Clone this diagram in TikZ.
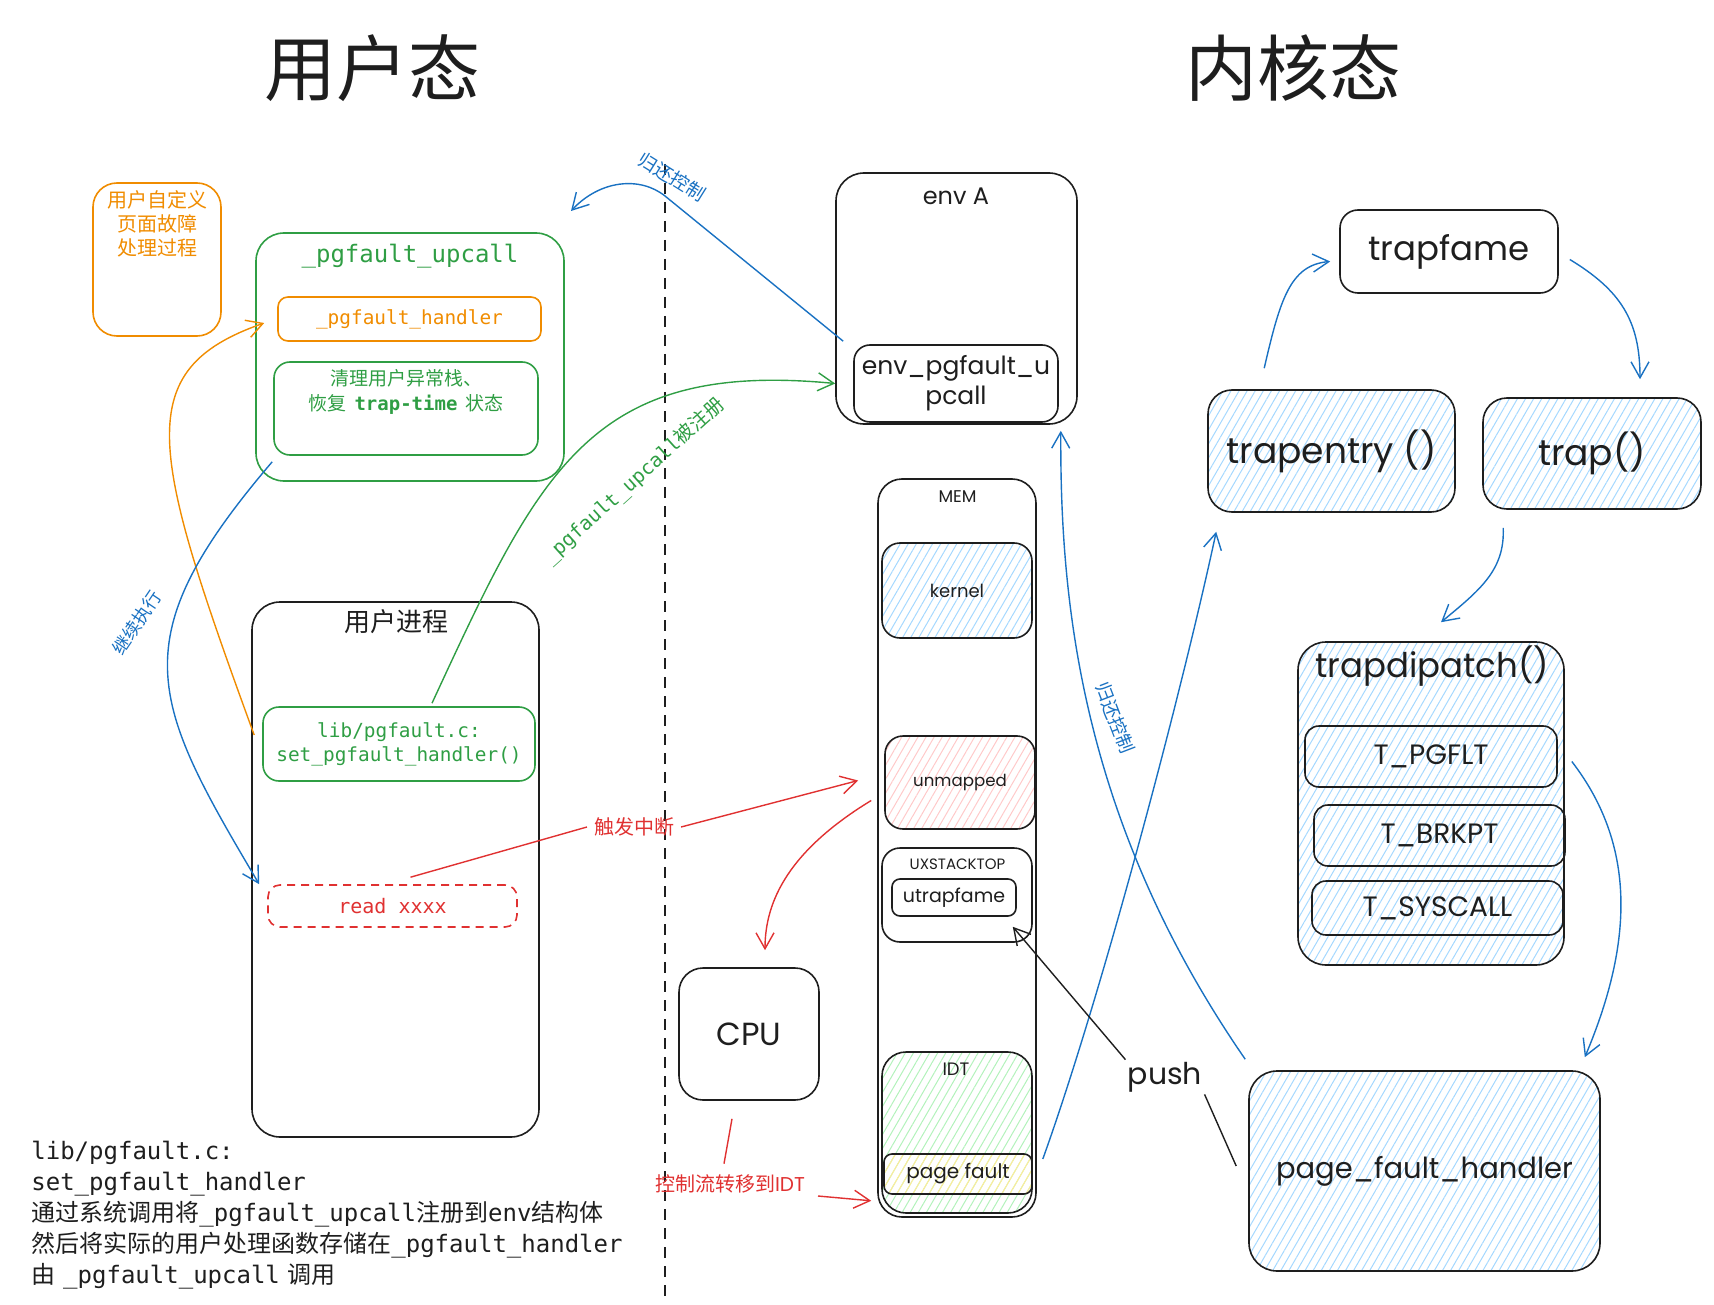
\documentclass[tikz,border=0pt]{standalone}
\usepackage{fontspec}
\newfontfamily\cjk{Noto Sans CJK SC}
\newfontfamily\hand{Poppins}
\newfontfamily\code{DejaVu Sans Mono}
\newcommand\setfs[2]{\fontsize{#1}{#2}\selectfont}
\usepackage{tikz}
\usetikzlibrary{
  arrows.meta,
  calc,
  patterns.meta
}
\definecolor{ink}{HTML}{1E1E1E}
\definecolor{exblue}{HTML}{1971C2}
\definecolor{exgreen}{HTML}{2F9E44}
\definecolor{exorange}{HTML}{F08C00}
\definecolor{exred}{HTML}{E03131}
\definecolor{hatchblue}{HTML}{A5D8FF}
\definecolor{hatchred}{HTML}{FFC9C9}
\definecolor{hatchgreen}{HTML}{B2F2BB}
\definecolor{hatchyellow}{HTML}{FFEC99}

\begin{document}
\begin{tikzpicture}[
    x=0.5pt, y=-0.5pt,
    >={Straight Barb[length=8pt,width=9pt]},
    box/.style={draw=ink, line width=0.8pt, rounded corners=12pt,
                inner sep=2pt, text=ink},
    hatch/.style={pattern={Lines[angle=60,distance=3.5pt,line width=0.5pt]},
                  pattern color=#1},
    flow/.style={line width=0.7pt},
    divider/.style={draw=ink, line width=1pt, dash pattern=on 5.5pt off 4pt}
  ]
  \useasboundingbox (0,0) rectangle (1714,1305);

  %% Titles
  \node[font=\cjk\setfs{36}{40}, text=ink] (usertitle) at (372,68) {用户态};
  \node[font=\cjk\setfs{36}{40}, text=ink] (kerneltitle) at (1293,68) {内核态};

  %% Divider
  \coordinate (divtop) at (665,164);
  \coordinate (divbot) at (665,1300);
  \draw[divider] (divtop) -- (divbot);

  %% User side
  \node[box, draw=exorange, minimum width=64pt, minimum height=76.5pt]
    (udef) at (157,259.5) {};
  \node[font=\cjk\setfs{10}{12}, text=exorange, align=center]
    (udeftxt) at (157,224) {用户自定义\\页面故障\\处理过程};

  \node[box, draw=exgreen, rounded corners=14pt, minimum width=154pt,
        minimum height=124pt] (upcall) at (410,357) {};
  \node[font=\code\setfs{12}{14}, text=exgreen]
    (upcalltxt) at (410,256) {\_pgfault\_upcall};
  \node[box, draw=exorange, rounded corners=5pt, minimum width=131.5pt,
        minimum height=22pt, font=\code\setfs{9.7}{12}, text=exorange]
    (handler) at (409.5,319) {\_pgfault\_handler};
  \node[box, draw=exgreen, rounded corners=8pt, minimum width=132pt,
        minimum height=46.5pt] (restore) at (406,408.5) {};
  \node[font=\cjk\setfs{9.5}{12.5}, text=exgreen, align=center]
    (restoretxt) at (406,392) {清理用户异常栈、\\恢复\ \ {\code\bfseries trap-time}\ \ 状态};

  \node[box, rounded corners=14pt, minimum width=143.5pt,
        minimum height=267.5pt] (proc) at (395.5,869.5) {};
  \node[font=\cjk\setfs{13}{15}, text=ink] (proctxt) at (396,622) {用户进程};
  \node[box, draw=exgreen, rounded corners=8pt, minimum width=136pt,
        minimum height=37pt, font=\code\setfs{9.7}{12}, text=exgreen, align=center]
    (setph) at (399,744) {lib/pgfault.c:\\set\_pgfault\_handler()};
  \node[box, draw=exred, dash pattern=on 4pt off 3pt, rounded corners=6pt,
        minimum width=124.5pt, minimum height=21pt,
        font=\code\setfs{10}{12}, text=exred] (readx) at (392.5,906) {read xxxx};

  \node[anchor=north west, inner sep=0pt, font=\setfs{12}{15.5}, text=ink,
        align=left] (note) at (31,1141)
    {{\code lib/pgfault.c:}\\
     {\code set\_pgfault\_handler}\\
     {\cjk 通过系统调用将}{\code\_pgfault\_upcall}{\cjk 注册到}{\code env}{\cjk 结构体}\\
     {\cjk 然后将实际的用户处理函数存储在}{\code\_pgfault\_handler}\\
     {\cjk 由} {\code\_pgfault\_upcall} {\cjk 调用}};

  %% Kernel side: env and memory
  \node[box, rounded corners=14pt, minimum width=120.5pt,
        minimum height=125.5pt] (envA) at (956.5,298.5) {};
  \node[font=\hand\setfs{12}{14}, text=ink] (envAtxt) at (956,196) {env A};
  \node[box, rounded corners=8pt, minimum width=102pt, minimum height=38.5pt,
        font=\hand\setfs{12.5}{15}, align=center]
    (envup) at (956,383.5) {env\_pgfault\_u\\pcall};

  \node[box, minimum width=79pt, minimum height=369pt] (mem) at (957,848) {};
  \node[font=\hand\setfs{8.5}{10}, text=ink] (memtxt) at (957.5,497) {MEM};
  \node[box, rounded corners=9pt, hatch=hatchblue, minimum width=75pt,
        minimum height=47.5pt, font=\hand\setfs{9}{11}] (kern) at (957,590.5) {kernel};
  \node[box, rounded corners=9pt, hatch=hatchred, minimum width=75pt,
        minimum height=46.5pt, font=\hand\setfs{8.3}{10}] (unmap) at (960,782.5) {unmapped};
  \node[box, rounded corners=9pt, minimum width=75pt, minimum height=47pt]
    (uxs) at (957,895) {};
  \node[font=\hand\setfs{7.5}{9}, text=ink] (uxstxt) at (957.5,864) {UXSTACKTOP};
  \node[box, rounded corners=4pt, minimum width=62pt, minimum height=18.5pt,
        font=\hand\setfs{9.5}{11}] (utf) at (954,897.5) {utrapfame};
  \node[box, hatch=hatchgreen, minimum width=75pt, minimum height=80.5pt]
    (idt) at (957,1132.5) {};
  \node[font=\hand\setfs{9}{11}, text=ink] (idttxt) at (956,1069) {IDT};
  \node[box, rounded corners=4pt, hatch=hatchyellow, minimum width=74pt,
        minimum height=20pt, font=\hand\setfs{10}{12}] (pf) at (958,1174) {page fault};

  \node[box, minimum width=70pt, minimum height=66pt,
        font=\hand\setfs{16}{18}] (cpu) at (749,1034) {CPU};

  %% Kernel side: trap path
  \node[box, rounded corners=9pt, minimum width=109pt, minimum height=41.5pt,
        font=\hand\setfs{17}{19}] (trapf) at (1449,251.5) {trapfame};
  \node[box, hatch=hatchblue, minimum width=123.5pt, minimum height=61pt,
        font=\hand\setfs{18}{20}] (tentry) at (1331.5,451) {trapentry ()};
  \node[box, hatch=hatchblue, minimum width=109pt, minimum height=55.5pt,
        font=\hand\setfs{18}{20}] (trap) at (1592,453.5) {trap()};
  \node[box, rounded corners=14pt, hatch=hatchblue, minimum width=133pt,
        minimum height=161.5pt] (tdisp) at (1431,803.5) {};
  \node[font=\hand\setfs{17}{19}, text=ink] (tdisptxt) at (1432,666) {trapdipatch()};
  \node[box, rounded corners=7pt, minimum width=126pt, minimum height=30.5pt,
        font=\hand\setfs{14}{16}] (tpg) at (1431,756.5) {T\_PGFLT};
  \node[box, rounded corners=7pt, minimum width=125.5pt, minimum height=30.5pt,
        font=\hand\setfs{14}{16}] (tbrk) at (1439.5,835.5) {T\_BRKPT};
  \node[box, rounded corners=7pt, minimum width=125.5pt, minimum height=27pt,
        font=\hand\setfs{14}{16}] (tsys) at (1437.5,908) {T\_SYSCALL};
  \node[box, rounded corners=14pt, hatch=hatchblue, minimum width=175.5pt,
        minimum height=100pt, font=\hand\setfs{14.5}{17}] (pfh) at (1424.5,1171)
    {page\_fault\_handler};

  \node[font=\hand\setfs{15}{17}, text=ink, inner sep=1pt] (push) at (1165,1077) {push};

  %% Arrow labels
  \node[font=\cjk\setfs{9.3}{11}, text=exblue, rotate=-32] (retlbl1) at (672,177) {归还控制};
  \node[font=\cjk\setfs{9.3}{11}, text=exblue, rotate=-69] (retlbl2) at (1115,718) {归还控制};
  \node[font=\cjk\setfs{9}{11}, text=exblue, rotate=56] (contlbl) at (137,623) {继续执行};
  \node[font=\setfs{9.8}{12}, text=exgreen, rotate=42] (reglbl) at (634,481)
    {{\code\_pgfault\_upcall}{\cjk 被注册}};
  \node[font=\cjk\setfs{10}{12}, text=exred] (trig) at (634,827) {触发中断};
  \node[font=\cjk\setfs{10}{12}, text=exred] (ctl) at (730,1184)
    {控制流转移到{\hand IDT}};

  %% User side arrows
  \draw[flow, exorange, ->] ($(setph.west)+(-8,-9)$)
    .. controls (150,450) and (130,370) .. ($(handler.west)+(-13,4)$);
  \draw[flow, exblue, ->] ($(upcall.south west)+(17,-20)$)
    .. controls (120,640) and (150,700) .. ($(readx.north west)+(-8,0)$);
  \draw[flow, exgreen, ->] ($(setph.north)+(33,-3)$)
    .. controls (540,470) and (590,360) .. (envA.west |- envup.west);
  \draw[flow, exblue, ->] ($(envup.north west)+(-10,-3)$)
    -- (665,196) .. controls (640,176) and (600,180) .. (571,211);

  %% Fault path
  \draw[flow, exred] ($(readx.north)+(18,-7)$) -- (trig.west);
  \draw[flow, exred, ->] (trig.east) -- ($(unmap.west)+(-26,-2)$);
  \draw[flow, exred, ->] ($(unmap.west)+(-13,18)$)
    .. controls (790,850) and (765,900) .. ($(cpu.north)+(16,-17)$);
  \draw[flow, exred] ($(cpu.south)+(-17,18)$) -- ($(ctl.north)+(-6,-4)$);
  \draw[flow, exred, ->] ($(ctl.east)+(6,12)$) -- ($(idt.south west)+(-10,-13)$);

  %% Kernel arrows
  \draw[flow, exblue, ->] ($(pf.east)+(10,-15)$)
    .. controls (1100,1000) and (1180,700) .. ($(tentry.south west)+(9,19)$);
  \draw[flow, exblue, ->] ($(tentry.north west)+(57,-21)$)
    .. controls (1280,300) and (1290,265) .. ($(trapf.west)+(-9,10)$);
  \draw[flow, exblue, ->] ($(trapf.east)+(11,8)$)
    .. controls (1620,290) and (1640,320) .. ($(trap.north)+(48,-18)$);
  \draw[flow, exblue, ->] ($(trap.south west)+(21,18)$)
    .. controls (1505,570) and (1480,590) .. ($(tdisp.north)+(10,-19)$);
  \draw[flow, exblue, ->] ($(tpg.east)+(14,5)$)
    .. controls (1640,850) and (1630,950) .. ($(pfh.north east)+(-16,-13)$);
  \draw[flow, exblue, ->] ($(pfh.north west)+(-3,-11)$)
    .. controls (1080,820) and (1060,600) .. ($(envA.south east)+(-17,6)$);

  %% push
  \draw[flow, ink, ->] (push.north west) -- ($(utf.south east)+(-4,10)$);
  \draw[flow, ink] (push.south east) -- ($(pfh.west)+(-12,-5)$);

\end{tikzpicture}
\end{document}
